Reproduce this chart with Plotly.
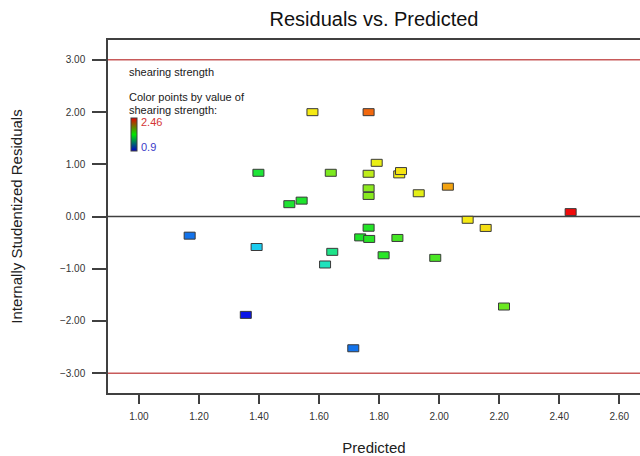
import plotly.graph_objects as go
from plotly.colors import sample_colorscale

# ---- data ----
predicted = [1.169, 1.392, 1.356, 1.398, 1.501, 1.542, 1.578, 1.765, 1.639, 1.792,
             1.765, 1.765, 1.765, 1.867, 1.873, 1.932, 2.029, 2.095, 2.155, 2.438,
             2.216, 1.765, 1.737, 1.767, 1.861, 1.644, 1.620, 1.815, 1.987, 1.714]
residuals = [-0.367, -0.584, -1.884, 0.837, 0.236, 0.304, 1.998, 1.998, 0.837, 1.028,
             0.818, 0.540, 0.394, 0.807, 0.870, 0.445, 0.571, -0.063, -0.219, 0.084,
             -1.724, -0.215, -0.400, -0.430, -0.411, -0.677, -0.919, -0.742, -0.792, -2.523]
actual = [1.08, 1.25, 0.90, 1.65, 1.66, 1.67, 2.08, 2.30, 1.85, 2.05,
          1.97, 1.88, 1.87, 2.07, 2.09, 2.04, 2.20, 2.08, 2.10, 2.46,
          1.82, 1.69, 1.68, 1.70, 1.75, 1.49, 1.39, 1.70, 1.76, 1.08]
color_min, color_max = 0.9, 2.46
limit_lines = [3.0, -3.0]
x_ticks = [1.0, 1.2, 1.4, 1.6, 1.8, 2.0, 2.2, 2.4, 2.6]
y_ticks = [-3.0, -2.0, -1.0, 0.0, 1.0, 2.0, 3.0]
x_range = [0.897, 2.669]
y_range = [-3.38, 3.38]

# ---- styling ----
FONT = "Liberation Sans, Arial, sans-serif"
point_scale = [[0.0, "rgb(10,20,230)"], [0.25, "rgb(30,225,240)"], [0.5, "rgb(30,228,40)"],
               [0.75, "rgb(245,240,20)"], [1.0, "rgb(240,10,10)"]]
legend_scale = [[0.0, "rgb(0,0,200)"], [0.5, "rgb(0,230,0)"], [1.0, "rgb(230,0,0)"]]

W, H = 640, 456
L, R, T, B = 108, 0, 40, 61
PW, PH = W - L - R, H - T - B


def pxx(x):
    return (x - L) / PW


def pyy(y):
    return (H - B - y) / PH


norm = [(a - color_min) / (color_max - color_min) for a in actual]
colors = sample_colorscale(point_scale, [min(max(t, 0), 1) for t in norm])

fig = go.Figure()

fig.add_trace(go.Scatter(
    x=predicted, y=residuals, mode="markers",
    marker=dict(symbol="square", size=6, color=actual, colorscale=point_scale,
                cmin=color_min, cmax=color_max, line=dict(width=0)),
    showlegend=False, hovertemplate="Predicted %{x:.2f}<br>Residual %{y:.2f}<extra></extra>",
))

# colour legend bar
fig.add_trace(go.Scatter(
    x=[None], y=[None], mode="markers",
    marker=dict(color=[color_min], colorscale=legend_scale, cmin=color_min, cmax=color_max,
                showscale=True,
                colorbar=dict(x=pxx(131), xanchor="left", xpad=0, y=pyy(135.5), yanchor="middle",
                              ypad=0, len=33, lenmode="pixels", thickness=6,
                              thicknessmode="pixels", outlinewidth=1, outlinecolor="#404040",
                              showticklabels=False, ticks="")),
    showlegend=False, hoverinfo="skip",
))

shapes = []
# zero line
shapes.append(dict(type="line", xref="paper", x0=0, x1=1, yref="y", y0=0, y1=0,
                   line=dict(color="#404040", width=1.5), layer="below"))
for v in limit_lines:
    shapes.append(dict(type="line", xref="paper", x0=0, x1=1, yref="y", y0=v, y1=v,
                       line=dict(color="#c85a5a", width=1.5), layer="below"))
# rectangular markers anchored at each data point
for xv, yv, c in zip(predicted, residuals, colors):
    shapes.append(dict(type="rect", xref="x", yref="y", xsizemode="pixel", ysizemode="pixel",
                       xanchor=xv, yanchor=yv, x0=-5.5, x1=5.5, y0=-3.5, y1=3.5,
                       fillcolor=c, line=dict(color="#3a3a3a", width=1)))

annotations = [
    dict(text="shearing strength", x=pxx(127), y=pyy(72), xref="paper", yref="paper",
         xanchor="left", yanchor="middle", showarrow=False, font=dict(size=11, color="#202020")),
    dict(text="Color points by value of", x=pxx(127), y=pyy(97), xref="paper", yref="paper",
         xanchor="left", yanchor="middle", showarrow=False, font=dict(size=11, color="#202020")),
    dict(text="shearing strength:", x=pxx(127), y=pyy(110), xref="paper", yref="paper",
         xanchor="left", yanchor="middle", showarrow=False, font=dict(size=11, color="#202020")),
    dict(text=f"{color_max:g}", x=pxx(138.5), y=pyy(122.5), xref="paper", yref="paper",
         xanchor="left", yanchor="middle", showarrow=False, font=dict(size=11, color="#d43535")),
    dict(text=f"{color_min:g}", x=pxx(138.5), y=pyy(147.5), xref="paper", yref="paper",
         xanchor="left", yanchor="middle", showarrow=False, font=dict(size=11, color="#3a3ac8")),
]

fig.update_layout(
    width=W, height=H,
    margin=dict(l=L, r=R, t=T, b=B, pad=0),
    paper_bgcolor="white", plot_bgcolor="white",
    font=dict(family=FONT, color="#303030"),
    title=dict(text="Residuals vs. Predicted", x=0.5, xref="paper", xanchor="center",
               y=1 - 19 / H, yref="container", yanchor="middle",
               font=dict(size=20, color="#111111")),
    shapes=shapes, annotations=annotations,
    xaxis=dict(range=x_range, tickvals=x_ticks, tickformat=".2f", ticks="outside", ticklen=9,
               tickcolor="#404040", tickwidth=1.5, showline=True, linecolor="#404040",
               linewidth=1.5, mirror=True, showgrid=False, zeroline=False,
               tickfont=dict(size=10, color="#333333"), ticklabelstandoff=4,
               title=dict(text="Predicted", font=dict(size=15, color="#202020"), standoff=24)),
    yaxis=dict(range=y_range, tickvals=y_ticks, tickformat=".2f", ticks="outside", ticklen=14,
               tickcolor="#404040", tickwidth=1.5, showline=True, linecolor="#404040",
               linewidth=1.5, showgrid=False, zeroline=False,
               tickfont=dict(size=10, color="#333333"), ticklabelstandoff=5,
               title=dict(text="Internally Studentized Residuals",
                          font=dict(size=15, color="#202020"), standoff=34)),
)

fig.write_html("out.html")
